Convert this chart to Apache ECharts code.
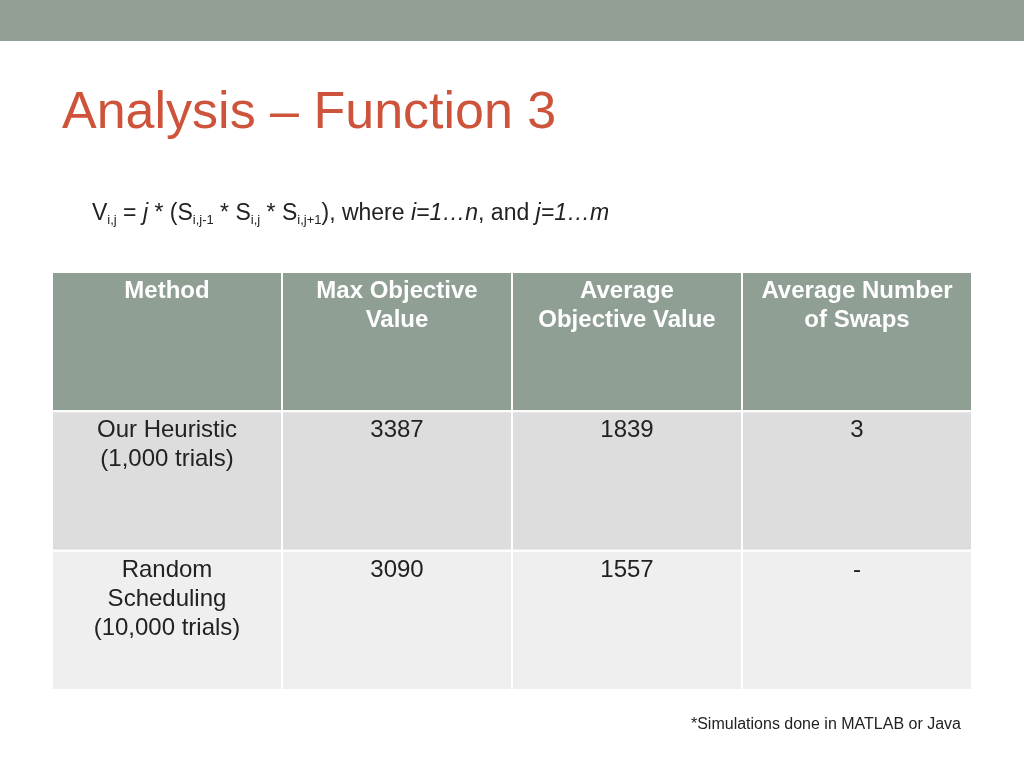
<!DOCTYPE html>
<html><head><meta charset="utf-8">
<script src="https://cdn.jsdelivr.net/npm/echarts@6/dist/echarts.min.js"></script>
<style>html,body{margin:0;padding:0;background:#fff}#c{width:1024px;height:768px}</style>
</head><body><div id="c"></div>
<script>
const headers = ['Method', 'Max Objective\nValue', 'Average\nObjective Value', 'Average Number\nof Swaps'];
const methods = ['Our Heuristic\n(1,000 trials)', 'Random\nScheduling\n(10,000 trials)'];
const maxValues = ['3387', '3090'];
const avgValues = ['1839', '1557'];
const swaps = ['3', '-'];
const rowColors = ['#dcdddc', '#eeefee'];

const cells = [];
headers.forEach((h, c) => cells.push([c, 0, h, '#909f94', 1]));
methods.forEach((m, r) => {
  [m, maxValues[r], avgValues[r], swaps[r]].forEach((t, c) => cells.push([c, r + 1, t, rowColors[r], 0]));
});

const chart = echarts.init(document.getElementById('c'));
chart.setOption({
  animation: false,
  grid: { left: 52, right: 52, top: 272, bottom: 78 },
  xAxis: { type: 'value', min: 0, max: 4, show: false },
  yAxis: { type: 'value', min: 0, max: 3, inverse: true, show: false },
  graphic: [
    { type: 'rect', shape: { x: 0, y: 0, width: 1024, height: 41 }, style: { fill: '#919f95' } },
    { type: 'text', left: 62, top: 88, style: { text: 'Analysis – Function 3', fontSize: 52, fontFamily: 'Liberation Sans', fill: '#cd543b' } },
    { type: 'text', left: 92, top: 202, style: {
      text: 'V{s|i,j} = {i|j} * (S{s|i,j-1} * S{s|i,j} * S{s|i,j+1}), where {i|i=1…n}, and {i|j=1…m}',
      fontSize: 23, fontFamily: 'Liberation Sans', fill: '#222',
      rich: { s: { fontSize: 13, fontFamily: 'Liberation Sans', fill: '#222', padding: [14, 0, 0, 0] },
              i: { fontSize: 23, fontStyle: 'italic', fontFamily: 'Liberation Sans', fill: '#222' } } } },
    { type: 'text', right: 63, top: 717, style: { text: '*Simulations done in MATLAB or Java', fontSize: 16, fontFamily: 'Liberation Sans', fill: '#222' } }
  ],
  series: [{
    type: 'custom',
    data: cells,
    renderItem: function (params, api) {
      const p0 = api.coord([api.value(0), api.value(1)]);
      const p1 = api.coord([api.value(0) + 1, api.value(1) + 1]);
      const d = cells[params.dataIndex];
      return {
        type: 'group',
        children: [
          { type: 'rect', shape: { x: p0[0], y: p0[1], width: p1[0] - p0[0], height: p1[1] - p0[1] },
            style: { fill: d[3], stroke: '#fff', lineWidth: 2 } },
          { type: 'text', x: (p0[0] + p1[0]) / 2, y: p0[1] + 5,
            style: { text: d[2], align: 'center', verticalAlign: 'top', fontSize: 24, lineHeight: 29,
              fontWeight: d[4] ? 'bold' : 'normal', fontFamily: 'Liberation Sans',
              fill: d[4] ? '#fff' : '#222' } }
        ]
      };
    }
  }]
});
</script></body></html>
